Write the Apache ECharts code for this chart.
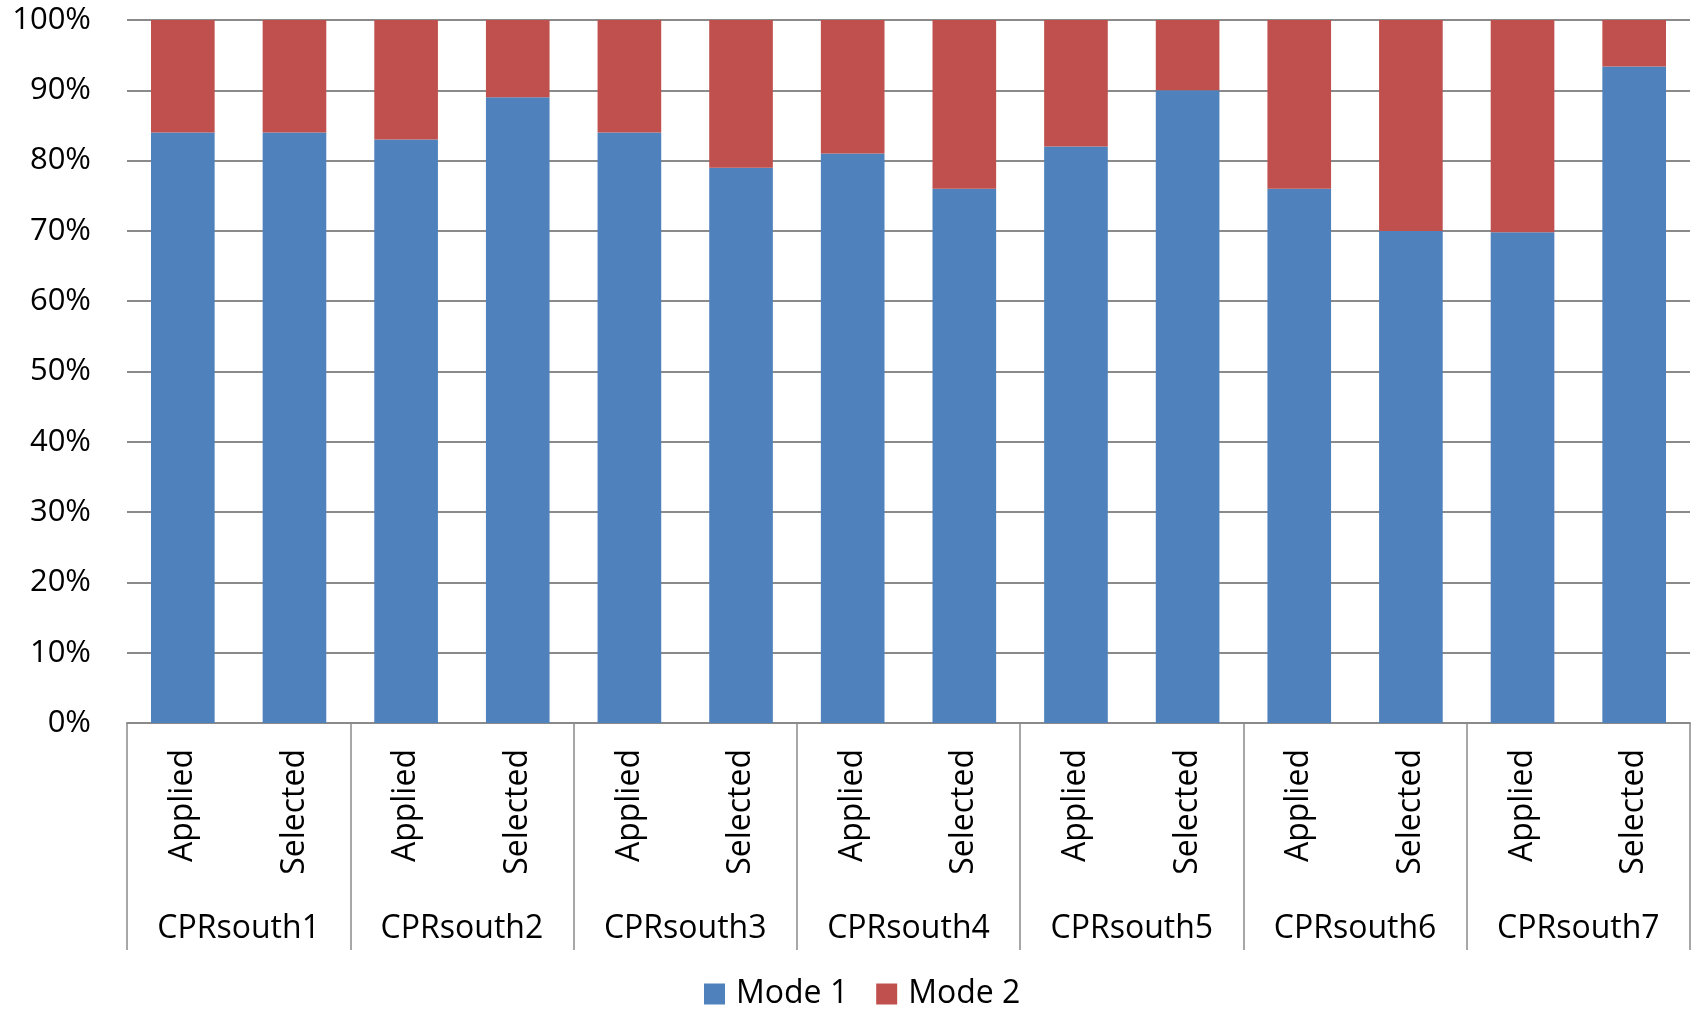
<!DOCTYPE html>
<html>
<head>
<meta charset="utf-8">
<script src="https://cdn.jsdelivr.net/npm/echarts@6/dist/echarts.min.js"></script>
<style>
html,body{margin:0;padding:0;background:#fff;}
#chart{width:1692px;height:1011px;}
</style>
</head>
<body>
<div id="chart"></div>
<script>
const subCategories = ['Applied','Selected','Applied','Selected','Applied','Selected','Applied','Selected','Applied','Selected','Applied','Selected','Applied','Selected'];
const groups = ['CPRsouth1','CPRsouth2','CPRsouth3','CPRsouth4','CPRsouth5','CPRsouth6','CPRsouth7'];
const mode1 = [84, 84, 83, 89, 84, 79, 81, 76, 82, 90, 76, 70, 69.8, 93.4];
const mode2 = [16, 16, 17, 11, 16, 21, 19, 24, 18, 10, 24, 30, 30.2, 6.6];
const seriesNames = ['Mode 1', 'Mode 2'];

const FONT = 'Open Sans';
const GRAY = '#8a8a8a';

const chart = echarts.init(document.getElementById('chart'), null, {renderer: 'canvas'});
chart.setOption({
  animation: false,
  color: ['#4F81BD', '#C0504D'],
  grid: {left: 127, right: 2, top: 20, bottom: 288, containLabel: false},
  legend: {
    data: seriesNames,
    left: 699,
    top: 968,
    itemWidth: 21,
    itemHeight: 21,
    itemGap: 28,
    icon: 'rect',
    textStyle: {fontFamily: FONT, fontSize: 32, lineHeight: 42, color: '#000', padding: [0, 0, 0, 6]}
  },
  xAxis: [
    {
      type: 'category',
      data: subCategories,
      position: 'bottom',
      offset: 0,
      axisLine: {show: true, lineStyle: {color: GRAY, width: 2}},
      axisTick: {show: false},
      axisLabel: {interval: 0, rotate: 90, margin: 26, fontFamily: FONT, fontSize: 32, color: '#000'}
    },
    {
      type: 'category',
      data: groups,
      position: 'bottom',
      offset: 0,
      axisLine: {show: false},
      axisTick: {show: true, length: 227, lineStyle: {color: GRAY, width: 1.5}},
      axisLabel: {interval: 0, margin: 190, fontFamily: FONT, fontSize: 32, color: '#000'}
    }
  ],
  yAxis: {
    type: 'value',
    min: 0,
    max: 100,
    interval: 10,
    axisLine: {show: false},
    axisTick: {show: false},
    splitLine: {show: true, lineStyle: {color: GRAY, width: 2}},
    axisLabel: {formatter: '{value}%', margin: 36, fontFamily: FONT, fontSize: 31, color: '#000'}
  },
  series: [
    {name: seriesNames[0], type: 'bar', stack: 'total', xAxisIndex: 0, data: mode1, barCategoryGap: '43%'},
    {name: seriesNames[1], type: 'bar', stack: 'total', xAxisIndex: 0, data: mode2, barCategoryGap: '43%'}
  ]
});
</script>
</body>
</html>
